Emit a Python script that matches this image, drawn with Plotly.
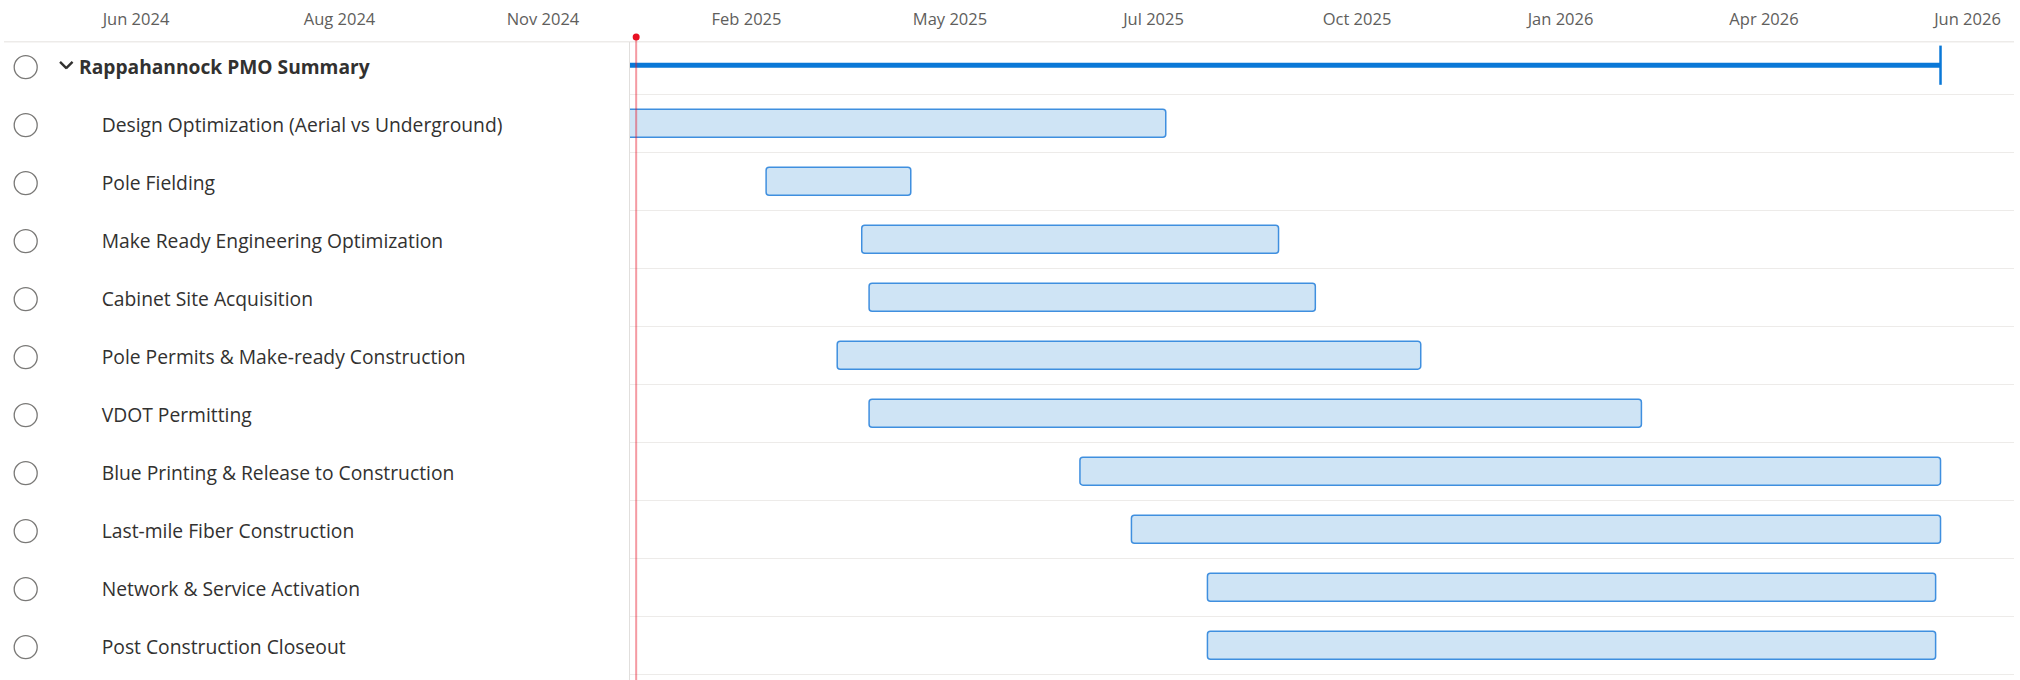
import pandas as pd
import plotly.graph_objects as go

# ---------------- data ----------------
SUMMARY = "Rappahannock PMO Summary"
TASKS = [
    "Design Optimization (Aerial vs Underground)",
    "Pole Fielding",
    "Make Ready Engineering Optimization",
    "Cabinet Site Acquisition",
    "Pole Permits & Make-ready Construction",
    "VDOT Permitting",
    "Blue Printing & Release to Construction",
    "Last-mile Fiber Construction",
    "Network & Service Activation",
    "Post Construction Closeout",
]
TASK_START = [
    "2024-12-01", "2025-02-19", "2025-03-30", "2025-04-02", "2025-03-20",
    "2025-04-02", "2025-06-27", "2025-07-18", "2025-08-18", "2025-08-18",
]
TASK_END = [
    "2025-08-01", "2025-04-19", "2025-09-16", "2025-10-01", "2025-11-13",
    "2026-02-11", "2026-06-13", "2026-06-13", "2026-06-11", "2026-06-11",
]
TODAY = "2024-12-28"
TICK_LABELS = ["Jun 2024", "Aug 2024", "Nov 2024", "Feb 2025", "May 2025",
               "Jul 2025", "Oct 2025", "Jan 2026", "Apr 2026", "Jun 2026"]
TICK_DATES = ["2024-06-07", "2024-08-29", "2024-11-20", "2025-02-11", "2025-05-05",
              "2025-07-27", "2025-10-18", "2026-01-09", "2026-04-02", "2026-06-24"]

# ---------------- layout constants ----------------
W, H = 2020, 680
LEFT_PX, RIGHT_PX = 630, 2014
HEADER_PX = 41.7
ROW_H = 58.0
FIRST_ROW_CENTER = 65.2
ORIGIN_PX = 136.0
PX_PER_DAY = 2.4518
TICKS_POS_PX = 28.5
CIRCLE_DY = 2.0 / ROW_H
TEXT_DY = 3.5 / ROW_H

FONT = "Open Sans"
TEXT_COLOR = "#323130"
BLUE = "#0a78d7"


def px_to_date(px):
    return pd.Timestamp(TICK_DATES[0]) + pd.Timedelta(days=(px - ORIGIN_PX) / PX_PER_DAY)


starts = pd.to_datetime(pd.Series(TASK_START))
ends = pd.to_datetime(pd.Series(TASK_END))
durations_ms = ((ends - starts).dt.total_seconds() * 1000).tolist()
sum_start = starts.min()
sum_end = ends.max()
sum_dur_ms = (sum_end - sum_start).total_seconds() * 1000

n_rows = len(TASKS) + 1
row_idx = list(range(n_rows))
task_rows = row_idx[1:]

y_top = -(FIRST_ROW_CENTER - HEADER_PX) / ROW_H
y_bottom = (H - FIRST_ROW_CENTER) / ROW_H
y_domain = [0, 1 - HEADER_PX / H]

fig = go.Figure()

# header time axis carrier (invisible)
fig.add_trace(go.Scatter(
    x=TICK_DATES, y=[0.5] * len(TICK_DATES), mode="markers",
    marker=dict(opacity=0, size=1), xaxis="x2", yaxis="y2", hoverinfo="skip",
))

# summary bar
fig.add_trace(go.Bar(
    y=[0], x=[sum_dur_ms], base=[sum_start.strftime("%Y-%m-%d")], orientation="h",
    width=5 / ROW_H, marker=dict(color=BLUE, line=dict(width=0)),
    xaxis="x", yaxis="y", hoverinfo="skip",
))
fig.add_trace(go.Scatter(
    x=[sum_end.strftime("%Y-%m-%d")], y=[0], mode="markers",
    marker=dict(symbol="line-ns", size=28, color=BLUE, line=dict(width=2.5, color=BLUE)),
    xaxis="x", yaxis="y", hoverinfo="skip", cliponaxis=False,
))
# task bars
fig.add_trace(go.Bar(
    y=task_rows, x=durations_ms, base=TASK_START, orientation="h",
    width=28 / ROW_H,
    marker=dict(color="#cfe4f5", line=dict(color="#3f8fdf", width=1.5), cornerradius=3),
    xaxis="x", yaxis="y", hovertext=TASKS, hoverinfo="text",
))

# left panel: circles, chevron, labels
fig.add_trace(go.Scatter(
    x=[25.7] * n_rows, y=[r + CIRCLE_DY for r in row_idx], mode="markers",
    marker=dict(symbol="circle-open", size=23, color="#7a7977", line=dict(width=1.3)),
    xaxis="x3", yaxis="y3", hoverinfo="skip",
))
# chevron (two diagonal strokes)
fig.add_trace(go.Scatter(
    x=[63.3, 69.3], y=[0.0, 0.0], mode="markers",
    marker=dict(symbol=["line-nw", "line-ne"], size=6.5, color=TEXT_COLOR,
                line=dict(width=2.4, color=TEXT_COLOR)),
    xaxis="x3", yaxis="y3", hoverinfo="skip",
))
fig.add_trace(go.Scatter(
    x=[79], y=[TEXT_DY], mode="text", text=[SUMMARY], textposition="middle right",
    textfont=dict(family=FONT, size=19.2, color=TEXT_COLOR, weight="bold"),
    xaxis="x3", yaxis="y3", hoverinfo="skip",
))
fig.add_trace(go.Scatter(
    x=[101.7] * len(TASKS), y=[r + TEXT_DY for r in task_rows], mode="text",
    text=TASKS, textposition="middle right",
    textfont=dict(family=FONT, size=19.3, color=TEXT_COLOR),
    xaxis="x3", yaxis="y3", hoverinfo="skip",
))

fig.update_layout(
    width=W, height=H,
    margin=dict(l=0, r=0, t=0, b=0),
    paper_bgcolor="white", plot_bgcolor="white",
    showlegend=False, barmode="overlay",
    font=dict(family=FONT, color=TEXT_COLOR),
    xaxis=dict(
        type="date", domain=[LEFT_PX / W, RIGHT_PX / W],
        range=[px_to_date(LEFT_PX), px_to_date(RIGHT_PX)],
        showgrid=False, zeroline=False, showticklabels=False, ticks="",
        anchor="y",
    ),
    yaxis=dict(
        domain=y_domain, range=[y_bottom, y_top], anchor="x",
        tickmode="array", tickvals=[i + 0.5 for i in row_idx],
        showticklabels=False, ticks="", showgrid=True, gridcolor="#edebe9", gridwidth=1,
        zeroline=False, showline=True, linecolor="#e1dfdd", linewidth=1,
    ),
    xaxis2=dict(
        type="date", domain=[0, 1], range=[px_to_date(0), px_to_date(W)],
        anchor="free", position=1 - TICKS_POS_PX / H, side="top",
        tickmode="array", tickvals=TICK_DATES, ticktext=TICK_LABELS,
        showgrid=False, zeroline=False, showline=False, ticks="",
        tickfont=dict(family=FONT, size=16.5, color="#605e5c"),
    ),
    yaxis2=dict(domain=[1 - HEADER_PX / H, 1], range=[0, 1], visible=False, anchor="x2"),
    xaxis3=dict(domain=[0, LEFT_PX / W], range=[0, LEFT_PX], visible=False, anchor="y3"),
    yaxis3=dict(domain=y_domain, range=[y_bottom, y_top], visible=False, anchor="x3"),
    shapes=[
        dict(type="line", xref="paper", yref="paper", x0=4 / W, x1=RIGHT_PX / W,
             y0=1 - HEADER_PX / H, y1=1 - HEADER_PX / H,
             line=dict(color="#edebe9", width=1.5), layer="below"),
        dict(type="line", xref="x", yref="paper", x0=TODAY, x1=TODAY,
             y0=0, y1=1 - 37 / H, line=dict(color="rgba(232,17,35,0.42)", width=2),
             layer="above"),
        dict(type="circle", xref="x", xsizemode="pixel", xanchor=TODAY, x0=-3.5, x1=3.5,
             yref="paper", ysizemode="pixel", yanchor=1 - 37 / H, y0=-3.5, y1=3.5,
             fillcolor="#e81123", line=dict(width=0), layer="above"),
    ],
)

fig.write_html("out.html", config={"displayModeBar": False},
               post_script="document.body.style.margin='0px';")
